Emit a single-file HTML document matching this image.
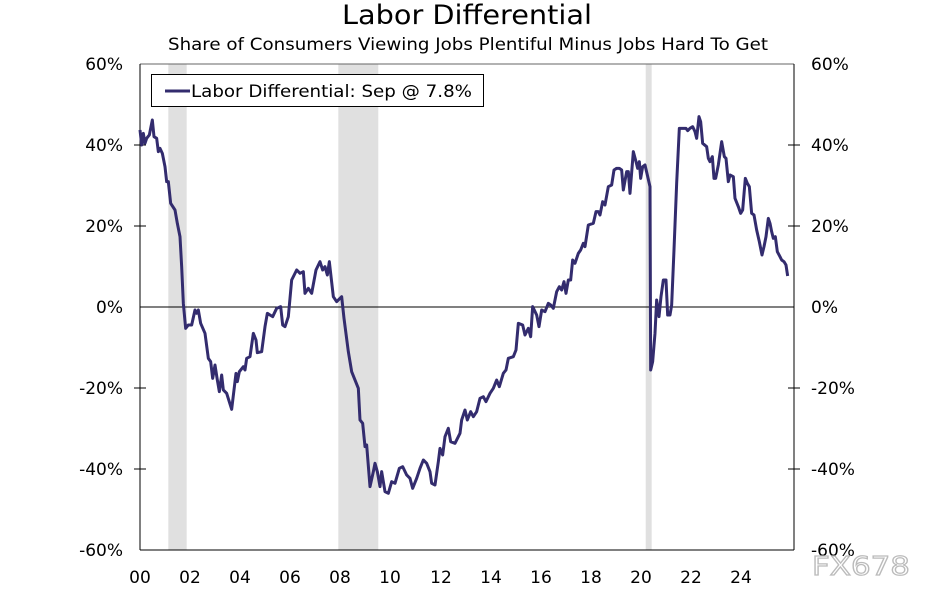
<!DOCTYPE html>
<html><head><meta charset="utf-8"><style>
body{margin:0;background:#fff;width:940px;height:600px;overflow:hidden;font-family:"DejaVu Sans","Liberation Sans",sans-serif}
</style></head><body>
<svg width="940" height="600" xmlns="http://www.w3.org/2000/svg" font-family="DejaVu Sans, Liberation Sans, sans-serif">
<rect width="940" height="600" fill="#fff"/>
<text x="342" y="24" font-size="27" textLength="250" lengthAdjust="spacingAndGlyphs" fill="#000">Labor Differential</text>
<text x="168" y="50" font-size="17" textLength="600" lengthAdjust="spacingAndGlyphs" fill="#000">Share of Consumers Viewing Jobs Plentiful Minus Jobs Hard To Get</text>
<rect x="168.3" y="64" width="18.4" height="486" fill="#e0e0e0"/>
<rect x="338.3" y="64" width="40" height="486" fill="#e0e0e0"/>
<rect x="645.7" y="64" width="6" height="486" fill="#e0e0e0"/>
<line x1="140" y1="64" x2="794" y2="64" stroke="#666" stroke-width="1"/>
<line x1="140" y1="550" x2="794" y2="550" stroke="#000" stroke-width="1"/>
<line x1="140" y1="64" x2="140" y2="550" stroke="#000" stroke-width="1"/>
<line x1="794" y1="64" x2="794" y2="550" stroke="#000" stroke-width="1"/>
<line x1="140" y1="307" x2="794" y2="307" stroke="#000" stroke-width="1"/>
<g stroke="#000" stroke-width="1">
<line x1="134" y1="145" x2="146" y2="145"/><line x1="134" y1="226" x2="146" y2="226"/><line x1="134" y1="388" x2="146" y2="388"/><line x1="134" y1="469" x2="146" y2="469"/>
<line x1="788" y1="145" x2="800" y2="145"/><line x1="788" y1="226" x2="800" y2="226"/><line x1="788" y1="388" x2="800" y2="388"/><line x1="788" y1="469" x2="800" y2="469"/>
</g>
<g font-size="17" fill="#000" text-anchor="end">
<text x="123" y="70">60%</text><text x="123" y="151">40%</text><text x="123" y="232">20%</text><text x="123" y="313">0%</text><text x="123" y="394">-20%</text><text x="123" y="475">-40%</text><text x="123" y="556">-60%</text>
</g>
<g font-size="17" fill="#000">
<text x="811" y="70">60%</text><text x="811" y="151">40%</text><text x="811" y="232">20%</text><text x="811" y="313">0%</text><text x="811" y="394">-20%</text><text x="811" y="475">-40%</text><text x="811" y="556">-60%</text>
</g>
<g font-size="17" fill="#000" text-anchor="middle">
<text x="140" y="583">00</text><text x="190" y="583">02</text><text x="240" y="583">04</text><text x="290" y="583">06</text><text x="340" y="583">08</text><text x="390" y="583">10</text><text x="441" y="583">12</text><text x="491" y="583">14</text><text x="541" y="583">16</text><text x="591" y="583">18</text><text x="641" y="583">20</text><text x="691" y="583">22</text><text x="741" y="583">24</text>
</g>
<g transform="translate(130,50) scale(0.33333)" fill="none" stroke="#332c6e" stroke-width="3" stroke-linejoin="round">
<polyline vector-effect="non-scaling-stroke" points="30,240 35,285 40,250 45,280 50,265 58,255 67,210 72,260 80,265 85,305 90,295 97,310 105,350 110,395 115,395 122,460 135,480 142,520 150,560 155,650 160,760 167,835 175,825 185,825 195,780 200,790 205,780 212,820 225,850 235,925 242,935 248,985 255,945 262,990 268,1025 275,975 280,1020 290,1030 305,1078 318,970 322,995 328,965 340,950 345,960 350,925 360,920 370,850 378,870 382,908 395,905 405,830 412,790 420,795 428,800 440,775 452,770 458,825 465,830 475,800 485,690 500,660 510,670 520,665 525,730 535,715 545,730 558,660 570,635 578,660 585,650 592,675 598,635 610,740 620,755 630,745 635,740 642,805 655,905 665,965 685,1015 690,1110 698,1120 705,1190 710,1185 720,1310 730,1265 735,1240 742,1265 750,1310 755,1265 765,1325 775,1330 785,1295 795,1300 808,1255 818,1250 830,1275 840,1285 848,1315 860,1285 870,1255 880,1230 890,1240 900,1265 905,1300 915,1305 925,1235 930,1195 938,1215 945,1160 955,1135 962,1175 975,1180 990,1150 995,1110 1005,1080 1012,1110 1022,1085 1030,1100 1040,1085 1050,1045 1060,1040 1068,1055 1080,1030 1090,1015 1100,990 1108,1010 1120,970 1128,960 1135,925 1150,920 1158,900 1165,820 1178,825 1185,855 1195,835 1202,860 1208,770 1220,795 1227,830 1235,780 1245,785 1255,760 1262,765 1270,775 1280,725 1288,710 1295,720 1302,695 1308,730 1315,690 1322,690 1328,630 1335,640 1345,610 1352,600 1360,580 1365,590 1375,525 1390,520 1398,485 1405,485 1410,495 1418,455 1425,465 1435,410 1445,405 1452,360 1460,355 1468,355 1475,360 1480,420 1490,365 1495,365 1500,430 1510,305 1518,335 1523,355 1528,335 1532,385 1538,350 1545,345 1552,375 1560,410 1562,960 1568,935 1575,850 1580,750 1587,800 1593,740 1600,690 1608,690 1613,795 1620,795 1625,765 1632,600 1640,400 1648,235 1660,235 1668,235 1673,242 1680,235 1688,230 1695,245 1700,265 1707,200 1712,215 1718,280 1730,290 1735,325 1740,335 1747,320 1752,385 1757,385 1765,345 1775,275 1783,320 1788,325 1795,395 1800,375 1810,380 1815,445 1825,470 1832,490 1838,480 1846,385 1852,400 1858,410 1865,490 1872,495 1880,540 1888,575 1896,615 1902,590 1908,560 1915,505 1920,520 1925,545 1930,565 1936,560 1942,605 1950,620 1955,630 1962,635 1968,645 1973,678"/>
</g>
<rect x="151.5" y="74.5" width="332" height="32" fill="#fff" stroke="#000" stroke-width="1"/>
<line x1="165" y1="91" x2="190" y2="91" stroke="#332c6e" stroke-width="3"/>
<text x="191" y="97" font-size="17" textLength="281" lengthAdjust="spacingAndGlyphs" fill="#000">Labor Differential: Sep @ 7.8%</text>
<text x="812" y="575" font-size="26" textLength="98" lengthAdjust="spacingAndGlyphs" fill="#fff" stroke="#bbb" stroke-width="1.2">FX678</text>
</svg>
</body></html>
